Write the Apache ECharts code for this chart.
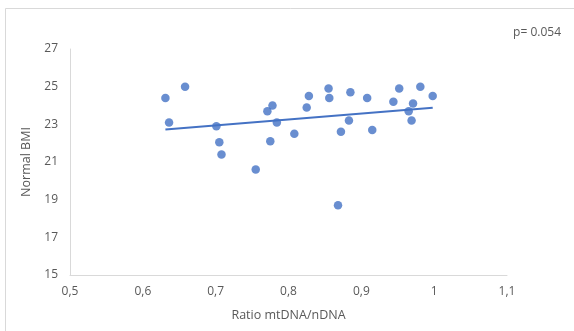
<!DOCTYPE html>
<html>
<head>
<meta charset="utf-8">
<script src="https://cdn.jsdelivr.net/npm/echarts@6/dist/echarts.min.js"></script>
<style>
  html, body { margin: 0; padding: 0; background: #fff; }
  #chart { width: 574px; height: 331px; }
</style>
</head>
<body>
<div id="chart"></div>
<script>
// mtDNA/nDNA ratio vs BMI (normal-weight group)
const ratio = [0.631, 0.658, 0.636, 0.701, 0.705, 0.708, 0.755, 0.771, 0.778, 0.784,
               0.775, 0.808, 0.825, 0.828, 0.855, 0.856, 0.885, 0.883, 0.872, 0.868,
               0.908, 0.915, 0.944, 0.952, 0.981, 0.998, 0.971, 0.965, 0.969];
const bmi   = [24.4, 25.0, 23.1, 22.9, 22.05, 21.4, 20.6, 23.7, 24.0, 23.1,
               22.1, 22.5, 23.9, 24.5, 24.9, 24.4, 24.7, 23.2, 22.6, 18.7,
               24.4, 22.7, 24.2, 24.9, 25.0, 24.5, 24.1, 23.7, 23.2];
// linear trendline end points
const trendX = [0.631, 0.998];
const trendY = [22.73, 23.88];
const xTicks = [0.5, 0.6, 0.7, 0.8, 0.9, 1.0, 1.1];
const yTicks = [15, 17, 19, 21, 23, 25, 27];

const txt = '#595959';
const font = '"Open Sans", "Liberation Sans", sans-serif';

const chart = echarts.init(document.getElementById('chart'));
chart.setOption({
  animation: false,
  backgroundColor: '#fff',
  textStyle: { fontFamily: font },
  grid: { left: 70, right: 67, top: 49, bottom: 56 },
  xAxis: {
    type: 'value',
    min: xTicks[0], max: xTicks[xTicks.length - 1], interval: 0.1,
    name: 'Ratio mtDNA/nDNA', nameLocation: 'middle', nameGap: 34,
    nameTextStyle: { color: txt, fontSize: 12.5, fontFamily: font },
    axisLine: { show: true, lineStyle: { color: '#d9d9d9', width: 1 } },
    axisTick: { show: false },
    splitLine: { show: false },
    axisLabel: {
      color: txt, fontSize: 12, fontFamily: font, margin: 11,
      formatter: v => {
        const r = Math.round(v * 10) / 10;
        return String(r).replace('.', ',');
      }
    }
  },
  yAxis: {
    type: 'value',
    min: yTicks[0], max: yTicks[yTicks.length - 1], interval: 2,
    name: 'Normal BMI', nameLocation: 'middle', nameGap: 34,
    nameTextStyle: { color: txt, fontSize: 12.5, fontFamily: font },
    axisLine: { show: true, lineStyle: { color: '#d9d9d9', width: 1 } },
    axisTick: { show: false },
    splitLine: { show: false },
    axisLabel: { color: txt, fontSize: 12, fontFamily: font, margin: 12 }
  },
  graphic: [
    {
      type: 'rect', silent: true, z: -1,
      shape: { x: 5.5, y: 8.5, width: 600, height: 400 },
      style: { fill: 'none', stroke: '#d9d9d9', lineWidth: 1 }
    },
    {
      type: 'text', right: 13, top: 27,
      style: { text: 'p= 0.054', fill: txt, font: '12px ' + font }
    }
  ],
  series: [
    {
      type: 'scatter',
      data: ratio.map((x, i) => [x, bmi[i]]),
      symbol: 'circle', symbolSize: 8.5,
      itemStyle: { color: '#4472C4' },
      z: 3
    },
    {
      type: 'line',
      data: trendX.map((x, i) => [x, trendY[i]]),
      showSymbol: false,
      lineStyle: { color: '#4472C4', width: 2 },
      z: 2
    }
  ]
});
</script>
</body>
</html>
